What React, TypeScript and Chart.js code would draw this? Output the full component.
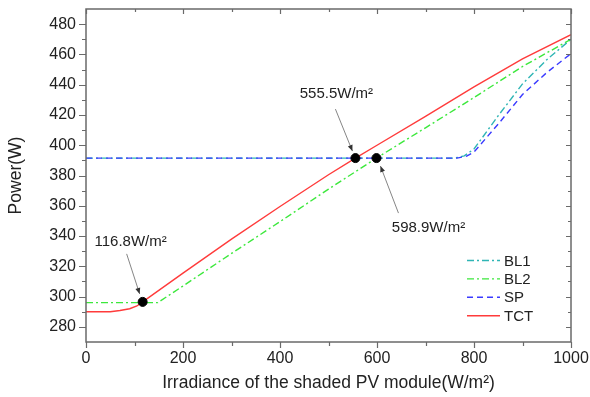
import React, { useEffect, useRef } from 'react';
import { Chart, registerables } from 'chart.js';

Chart.register(...registerables);

// ---------- data ----------
const tctX = [0, 50, 70, 90, 105, 116.8, 200, 300, 400, 500, 555.5, 600, 700, 800, 900, 1000];
const tctY = [290, 290, 290.8, 292, 293.8, 296.5, 315.5, 338, 359.5, 380.5, 391.5, 400, 419, 438.5, 457, 473];

const bl2X = [0, 148, 200, 300, 400, 500, 598.9, 700, 800, 900, 1000];
const bl2Y = [296, 296, 307, 328.5, 349.5, 371, 391.5, 411.5, 431.5, 452, 470];

const bl1X = [0, 760, 780, 800, 850, 900, 950, 1000];
const bl1Y = [391.5, 391.5, 393, 397.5, 419.5, 440.5, 456.5, 470];

const spX = [0, 765, 785, 800, 850, 900, 950, 1000];
const spY = [391.5, 391.5, 392.8, 395.5, 414, 433.5, 448, 460.5];

const markerX = [116.8, 555.5, 598.9];
const markerY = [296.5, 391.5, 391.5];
const markerLabels = ['116.8W/m²', '555.5W/m²', '598.9W/m²'];

const yTickLabels = [280, 300, 320, 340, 360, 380, 400, 420, 440, 460, 480];
const xTickLabels = [0, 200, 400, 600, 800, 1000];

const seriesNames = ['BL1', 'BL2', 'SP', 'TCT'];

const FONT = "'Liberation Sans', Arial, sans-serif";
const AXIS_COLOR = '#6a6a6a';

// annotation layout (pixel offsets from each marker): text centre, arrow tail, arrow tip
const annoLayout = [
  { tx: -12, ty: -60, ax: -16, ay: -48, bx: -3, by: -8 },
  { tx: -19, ty: -64, ax: -20, ay: -49, bx: -3, by: -7 },
  { tx: 52, ty: 70, ax: 22, ay: 55, bx: 4, by: 8 },
];

const toPts = (xs: number[], ys: number[]) => xs.map((x, i) => ({ x, y: ys[i] }));

const framePlugin = {
  id: 'frameTicks',
  afterDraw(chart: any) {
    const ctx = chart.ctx;
    const { left, right, top, bottom } = chart.chartArea;
    const xs = chart.scales.x;
    const ys = chart.scales.y;
    ctx.save();
    ctx.strokeStyle = AXIS_COLOR;
    ctx.lineWidth = 1.5;
    ctx.strokeRect(left, top, right - left, bottom - top);
    ctx.lineWidth = 1.2;
    ctx.beginPath();
    for (let v = 280; v <= 480; v += 10) {
      const y = Math.round(ys.getPixelForValue(v)) + 0.5;
      const major = v % 20 === 0;
      const lo = major ? 7 : 4;
      const li = major ? 5 : 3;
      ctx.moveTo(left - lo, y);
      ctx.lineTo(left, y);
      ctx.moveTo(right, y);
      ctx.lineTo(right - li, y);
    }
    for (let v = 0; v <= 1000; v += 100) {
      const x = Math.round(xs.getPixelForValue(v)) + 0.5;
      const major = v % 200 === 0;
      const lo = major ? 6 : 4;
      const li = major ? 5 : 3;
      ctx.moveTo(x, bottom);
      ctx.lineTo(x, bottom + lo);
      ctx.moveTo(x, top);
      ctx.lineTo(x, top + li);
    }
    ctx.stroke();

    // annotations
    ctx.font = `15px ${FONT}`;
    ctx.fillStyle = '#222';
    ctx.textAlign = 'center';
    ctx.textBaseline = 'middle';
    markerX.forEach((mx, i) => {
      const px = xs.getPixelForValue(mx);
      const py = ys.getPixelForValue(markerY[i]);
      const L = annoLayout[i];
      ctx.fillText(markerLabels[i], px + L.tx, py + L.ty);
      const x1 = px + L.ax, y1 = py + L.ay, x2 = px + L.bx, y2 = py + L.by;
      ctx.strokeStyle = '#777';
      ctx.lineWidth = 0.9;
      ctx.beginPath();
      ctx.moveTo(x1, y1);
      ctx.lineTo(x2, y2);
      ctx.stroke();
      const ang = Math.atan2(y2 - y1, x2 - x1);
      const hl = 6, hw = 2.5;
      ctx.fillStyle = '#333';
      ctx.beginPath();
      ctx.moveTo(x2, y2);
      ctx.lineTo(x2 - hl * Math.cos(ang) + hw * Math.sin(ang), y2 - hl * Math.sin(ang) - hw * Math.cos(ang));
      ctx.lineTo(x2 - hl * Math.cos(ang) - hw * Math.sin(ang), y2 - hl * Math.sin(ang) + hw * Math.cos(ang));
      ctx.closePath();
      ctx.fill();
      ctx.fillStyle = '#222';
    });

    // legend
    const lx = 467, lw = 33, ly0 = 260.5, step = 18.4;
    ctx.font = `15px ${FONT}`;
    ctx.textAlign = 'left';
    ctx.textBaseline = 'middle';
    const lineDs = chart.data.datasets.filter((d: any) => d.label && seriesNames.includes(d.label));
    seriesNames.forEach((name, i) => {
      const ds = lineDs.find((d: any) => d.label === name);
      const y = ly0 + i * step;
      ctx.strokeStyle = ds.borderColor;
      ctx.lineWidth = ds.borderWidth;
      ctx.setLineDash(ds.borderDash || []);
      ctx.beginPath();
      ctx.moveTo(lx, y);
      ctx.lineTo(lx + lw, y);
      ctx.stroke();
      ctx.setLineDash([]);
      ctx.fillStyle = '#222';
      ctx.fillText(name, lx + lw + 4, y + 1);
    });
    ctx.restore();
  },
};

export default function App() {
  const ref = useRef<HTMLCanvasElement>(null);
  useEffect(() => {
    document.body.style.margin = '0';
    const cv = ref.current!;
    const chart = new Chart(cv, {
      type: 'line',
      data: {
        datasets: [
          {
            label: 'markers',
            type: 'scatter',
            data: toPts(markerX, markerY),
            pointRadius: 4.5,
            pointBackgroundColor: '#000',
            pointBorderColor: '#000',
            showLine: false,
            order: 0,
          } as any,
          {
            label: 'TCT',
            data: toPts(tctX, tctY),
            borderColor: '#ff3b3b',
            borderWidth: 1.4,
            pointRadius: 0,
            tension: 0,
            order: 1,
          },
          {
            label: 'SP',
            data: toPts(spX, spY),
            borderColor: '#3a3aff',
            borderWidth: 1.4,
            borderDash: [6, 4],
            pointRadius: 0,
            tension: 0,
            order: 2,
          },
          {
            label: 'BL2',
            data: toPts(bl2X, bl2Y),
            borderColor: '#3ce83c',
            borderWidth: 1.4,
            borderDash: [7, 3, 2, 3],
            pointRadius: 0,
            tension: 0,
            order: 3,
          },
          {
            label: 'BL1',
            data: toPts(bl1X, bl1Y),
            borderColor: '#2fb5b5',
            borderWidth: 1.4,
            borderDash: [7, 3, 2, 3],
            pointRadius: 0,
            tension: 0,
            order: 4,
          },
        ],
      },
      options: {
        responsive: false,
        animation: false,
        layout: { padding: { top: 9, right: 19, left: 0, bottom: 0 } },
        plugins: { legend: { display: false }, tooltip: { enabled: false } },
        scales: {
          x: {
            type: 'linear',
            min: 0,
            max: 1000,
            grid: { display: false, drawTicks: false, tickLength: 0 },
            border: { display: false },
            afterBuildTicks: (s: any) => {
              s.ticks = xTickLabels.map((v) => ({ value: v }));
            },
            afterFit: (s: any) => {
              s.height = 55;
              s.paddingLeft = 0;
              s.paddingRight = 0;
            },
            ticks: {
              padding: 7,
              color: '#222',
              font: { family: FONT, size: 16 },
              maxRotation: 0,
              callback: (v: any) => String(v),
            },
            title: {
              display: true,
              text: 'Irradiance of the shaded PV module(W/m²)',
              color: '#222',
              font: { family: FONT, size: 17.5 },
              padding: { top: 3, bottom: 3 },
            },
          },
          y: {
            type: 'linear',
            min: 270,
            max: 490,
            grid: { display: false, drawTicks: false, tickLength: 0 },
            border: { display: false },
            afterBuildTicks: (s: any) => {
              s.ticks = yTickLabels.map((v) => ({ value: v }));
            },
            afterFit: (s: any) => {
              s.width = 86;
              s.paddingTop = 0;
              s.paddingBottom = 0;
            },
            ticks: {
              padding: 10,
              color: '#222',
              font: { family: FONT, size: 16 },
            },
            title: {
              display: true,
              text: 'Power(W)',
              color: '#222',
              font: { family: FONT, size: 17.5 },
              padding: { top: 6, bottom: 6 },
            },
          },
        },
      },
      plugins: [framePlugin],
    });
    return () => chart.destroy();
  }, []);
  return (
    <div style={{ width: 590, height: 397 }}>
      <canvas ref={ref} width={590} height={397} />
    </div>
  );
}
